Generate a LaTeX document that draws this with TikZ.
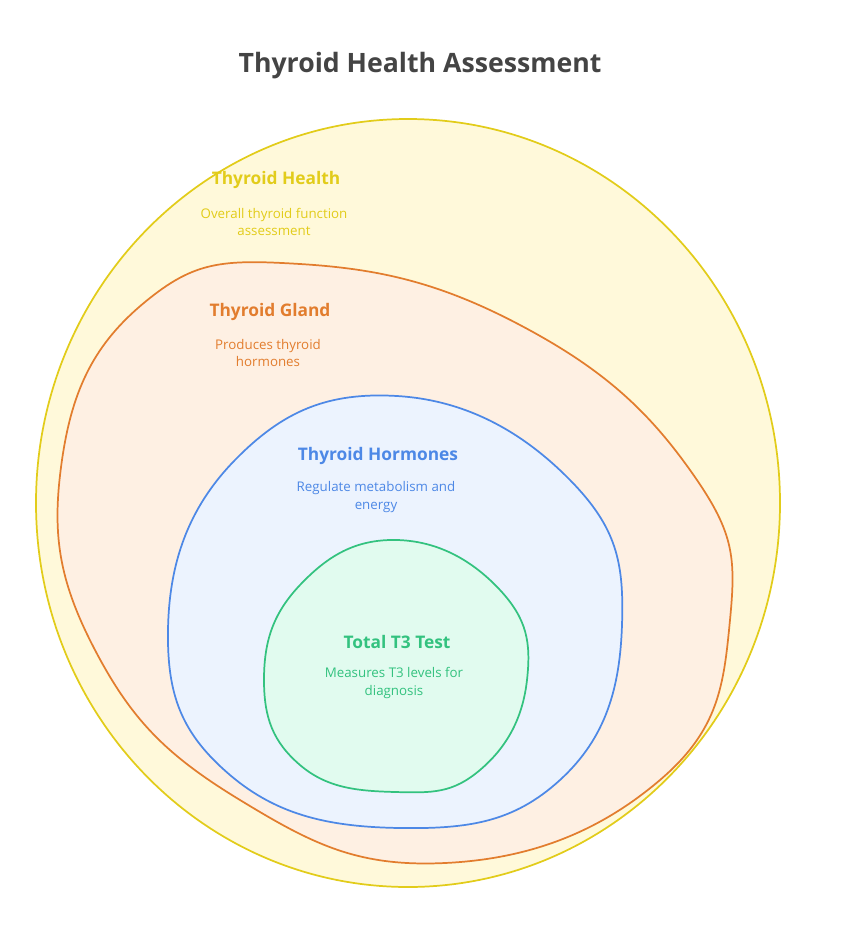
\documentclass[tikz,border=0pt]{standalone}
\usepackage{fontspec}
\setmainfont{Open Sans}
\definecolor{healthline}{HTML}{E2CC1A}
\definecolor{healthfill}{HTML}{FFF9DA}
\definecolor{glandline}{HTML}{E27D2E}
\definecolor{glandfill}{HTML}{FEF0E3}
\definecolor{hormline}{HTML}{4D88E6}
\definecolor{hormfill}{HTML}{ECF3FE}
\definecolor{testline}{HTML}{33C27F}
\definecolor{testfill}{HTML}{E1FBEF}
\definecolor{titlegray}{HTML}{444444}
\tikzset{
  head/.style={font=\fontsize{13}{16}\selectfont\bfseries, align=center},
  sub/.style={font=\fontsize{10}{13}\selectfont, align=center},
  blob/.style={line width=1.3pt}
}
\begin{document}
\begin{tikzpicture}[x=0.75pt,y=-0.75pt]
	\useasboundingbox (0,0) rectangle (840,936);
	%Title
	\node[font=\fontsize{20}{25}\selectfont\bfseries, text=titlegray] (title) at (420,66) {Thyroid Health Assessment};
	%Thyroid Health
	\draw[blob, draw=healthline, fill=healthfill] (408,503) ellipse [x radius=372, y radius=384];
	%Thyroid Gland
	\draw[blob, draw=glandline, fill=glandfill] plot[smooth cycle, tension=0.75] coordinates {(300,264) (520,325) (690,470) (730,620) (660,780) (445,863) (240,800) (95,650) (62,460) (145,302)};
	%Thyroid Hormones
	\draw[blob, draw=hormline, fill=hormfill] plot[smooth cycle, tension=0.75] coordinates {(397,396) (570,480) (622,625) (560,780) (400,828) (230,775) (168,630) (235,460)};
	%Total T3 Test
	\draw[blob, draw=testline, fill=testfill] plot[smooth cycle, tension=0.75] coordinates {(397,540) (500,590) (527,680) (480,770) (395,792) (300,765) (264,680) (300,585)};
	%Labels
	\node[head, text=healthline] (healthhead) at (276,180) {Thyroid Health};
	\node[sub, text=healthline] (healthsub) at (274,222) {Overall thyroid function\\assessment};
	\node[head, text=glandline] (glandhead) at (270,312) {Thyroid Gland};
	\node[sub, text=glandline] (glandsub) at (268,353) {Produces thyroid\\hormones};
	\node[head, text=hormline] (hormhead) at (378,456) {Thyroid Hormones};
	\node[sub, text=hormline] (hormsub) at (376,497) {Regulate metabolism and\\energy};
	\node[head, text=testline] (testhead) at (397,642) {Total T3 Test};
	\node[sub, text=testline] (testsub) at (394,683) {Measures T3 levels for\\diagnosis};
\end{tikzpicture}
\end{document}
